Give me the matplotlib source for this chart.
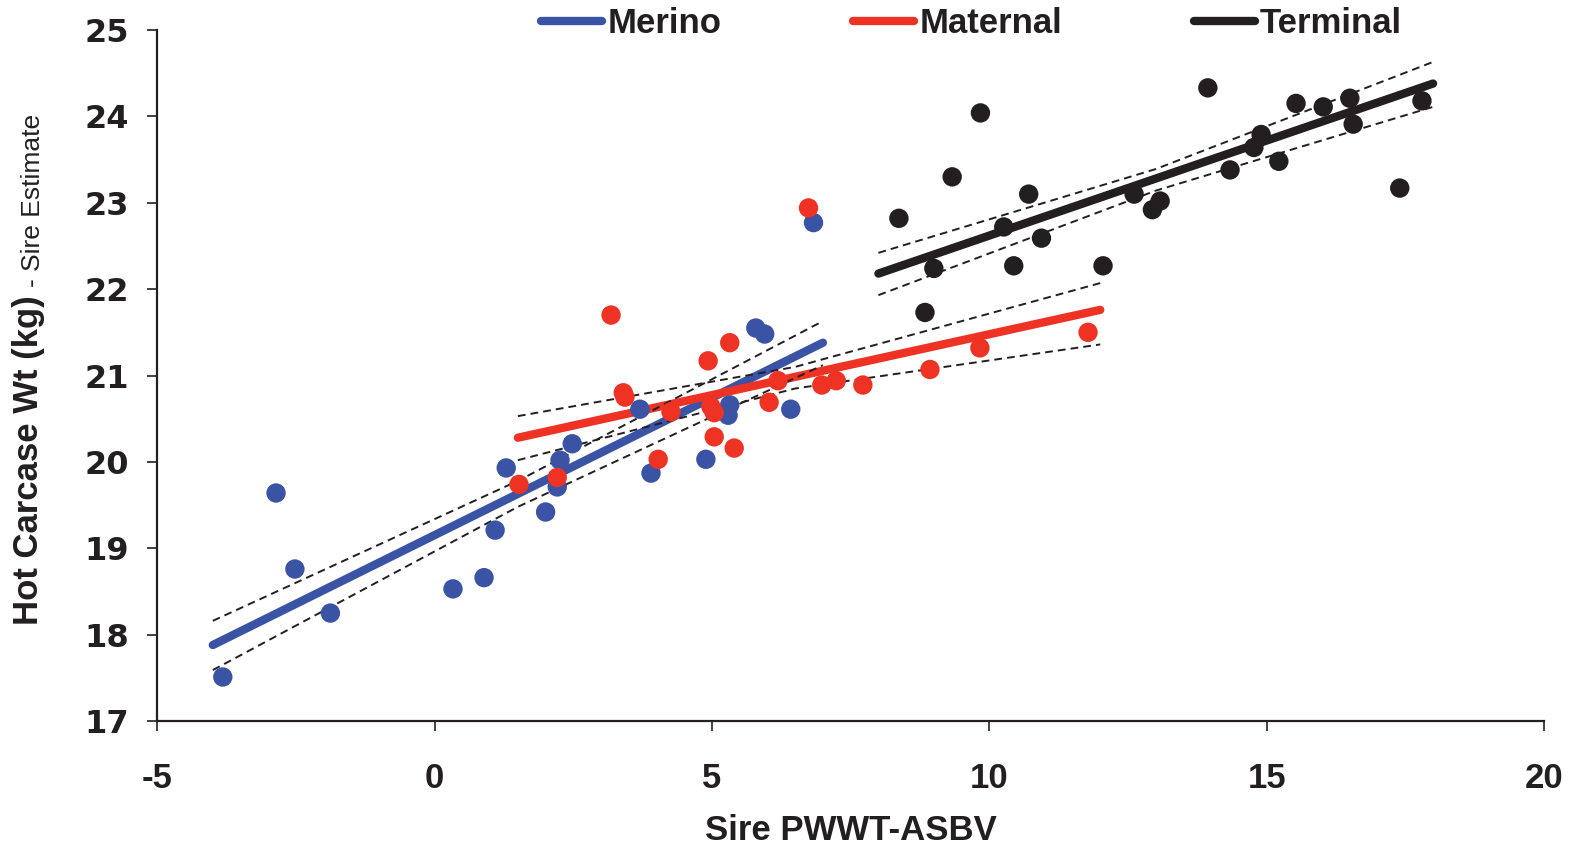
import matplotlib
matplotlib.use("Agg")
import matplotlib.pyplot as plt
import numpy as np
from matplotlib.lines import Line2D

# ---------------- data ----------------
groups = ["Merino", "Maternal", "Terminal"]
colors = {"Merino": "#3a53a4", "Maternal": "#ee3224", "Terminal": "#231f20"}

merino_x = [-3.82, -2.86, -2.52, -1.88, 0.33, 0.89, 1.09, 1.29, 2.00, 2.21, 2.26,
            2.48, 3.70, 3.90, 4.89, 5.29, 5.32, 5.79, 5.95, 6.42, 6.83]
merino_y = [17.51, 19.64, 18.76, 18.25, 18.53, 18.66, 19.21, 19.93, 19.42, 19.71, 20.02,
            20.21, 20.61, 19.87, 20.03, 20.54, 20.66, 21.55, 21.48, 20.61, 22.77]

maternal_x = [1.52, 2.21, 3.18, 3.40, 3.43, 4.03, 4.26, 4.93, 5.32, 4.98, 5.04,
              5.04, 5.40, 6.03, 6.19, 6.98, 7.24, 7.72, 6.74, 8.93, 9.83, 11.78]
maternal_y = [19.74, 19.82, 21.70, 20.80, 20.75, 20.03, 20.58, 21.17, 21.38, 20.64, 20.57,
              20.29, 20.16, 20.69, 20.94, 20.89, 20.94, 20.89, 22.94, 21.07, 21.32, 21.50]

terminal_x = [8.37, 8.84, 9.00, 9.33, 9.84, 10.26, 10.44, 10.71, 10.94, 12.05, 12.61,
              12.94, 13.08, 13.94, 14.34, 14.77, 14.90, 15.22, 15.53, 16.02, 16.50,
              16.56, 17.40, 17.80]
terminal_y = [22.82, 21.73, 22.24, 23.30, 24.04, 22.72, 22.27, 23.10, 22.59, 22.27, 23.10,
              22.92, 23.02, 24.33, 23.38, 23.64, 23.79, 23.48, 24.15, 24.11, 24.21,
              23.91, 23.17, 24.18]

# regression lines (endpoints)
merino_fit_x = [-4.0, 7.0]
merino_fit_y = [17.88, 21.38]
maternal_fit_x = [1.5, 12.0]
maternal_fit_y = [20.28, 21.76]
terminal_fit_x = [8.0, 18.0]
terminal_fit_y = [22.18, 24.38]

# confidence bands
merino_band_x = [-4.0, 1.5, 7.0]
merino_band_hi = [18.16, 19.78, 21.63]
merino_band_lo = [17.59, 19.48, 21.12]
maternal_band_x = [1.5, 6.5, 12.0]
maternal_band_hi = [20.53, 21.10, 22.07]
maternal_band_lo = [20.02, 20.85, 21.36]
terminal_band_x = [8.0, 13.0, 18.0]
terminal_band_hi = [22.42, 23.39, 24.63]
terminal_band_lo = [21.93, 23.14, 24.11]

x_ticks = [-5, 0, 5, 10, 15, 20]
y_ticks = [17, 18, 19, 20, 21, 22, 23, 24, 25]

# ---------------- plot ----------------
narrow = ["Liberation Sans Narrow", "Liberation Sans", "DejaVu Sans"]
ink = "#231f20"

fig = plt.figure(figsize=(15.75, 8.52), dpi=100)
ax = fig.add_axes([0.0999, 0.1537, 0.8804, 0.8111])

series = {
    "Merino": (merino_x, merino_y, merino_fit_x, merino_fit_y,
               merino_band_x, merino_band_hi, merino_band_lo),
    "Maternal": (maternal_x, maternal_y, maternal_fit_x, maternal_fit_y,
                 maternal_band_x, maternal_band_hi, maternal_band_lo),
    "Terminal": (terminal_x, terminal_y, terminal_fit_x, terminal_fit_y,
                 terminal_band_x, terminal_band_hi, terminal_band_lo),
}

for g in groups:
    xs, ys, fx, fy, bx, bh, bl = series[g]
    ax.plot(fx, fy, color=colors[g], lw=6, solid_capstyle="round", zorder=2)
for g in groups:
    xs, ys, fx, fy, bx, bh, bl = series[g]
    for b in (bh, bl):
        ax.plot(bx, b, color=ink, lw=1.4, ls=(0, (4, 2.6)), zorder=3)
for g in groups:
    xs, ys, fx, fy, bx, bh, bl = series[g]
    ax.scatter(xs, ys, s=195, color=colors[g], edgecolors="none", zorder=4)

ax.set_xlim(-5, 20)
ax.set_ylim(17, 25)
ax.set_xticks(x_ticks)
ax.set_yticks(y_ticks)
ax.set_xticklabels([str(t) for t in x_ticks], family=narrow, fontweight="bold",
                   fontsize=25, color=ink)
ax.set_yticklabels([str(t) for t in y_ticks], family="DejaVu Sans", fontweight="bold",
                   fontsize=23, color=ink)
ax.tick_params(axis="x", direction="out", length=7.5, width=1.2, color=ink, pad=22)
ax.tick_params(axis="y", direction="out", length=7.5, width=1.2, color=ink, pad=13)

for s in ("top", "right"):
    ax.spines[s].set_visible(False)
for s in ("left", "bottom"):
    ax.spines[s].set_linewidth(1.6)
    ax.spines[s].set_color(ink)

ax.set_xlabel("Sire PWWT-ASBV", family=narrow, fontweight="bold", fontsize=25,
              color=ink, labelpad=14)

# y label: bold part + smaller suffix
fig.text(0.018, 0.46, "Hot Carcase Wt (kg)", rotation=90, family=narrow,
         fontweight="bold", fontsize=25, color=ink, ha="center", va="center")
fig.text(0.021, 0.765, "- Sire Estimate", rotation=90, family=narrow,
         fontsize=19, color=ink, ha="center", va="center")

handles = [Line2D([0], [0], color=colors[g], lw=6, solid_capstyle="round") for g in groups]
leg = fig.legend(handles, groups, loc="center", bbox_to_anchor=(0.617, 0.972),
                 ncol=3, frameon=False, handlelength=1.75, handletextpad=0.15,
                 columnspacing=3.8, prop={"family": narrow, "weight": "bold", "size": 25})
for t in leg.get_texts():
    t.set_color(ink)

fig.savefig("out.png", dpi=100)
